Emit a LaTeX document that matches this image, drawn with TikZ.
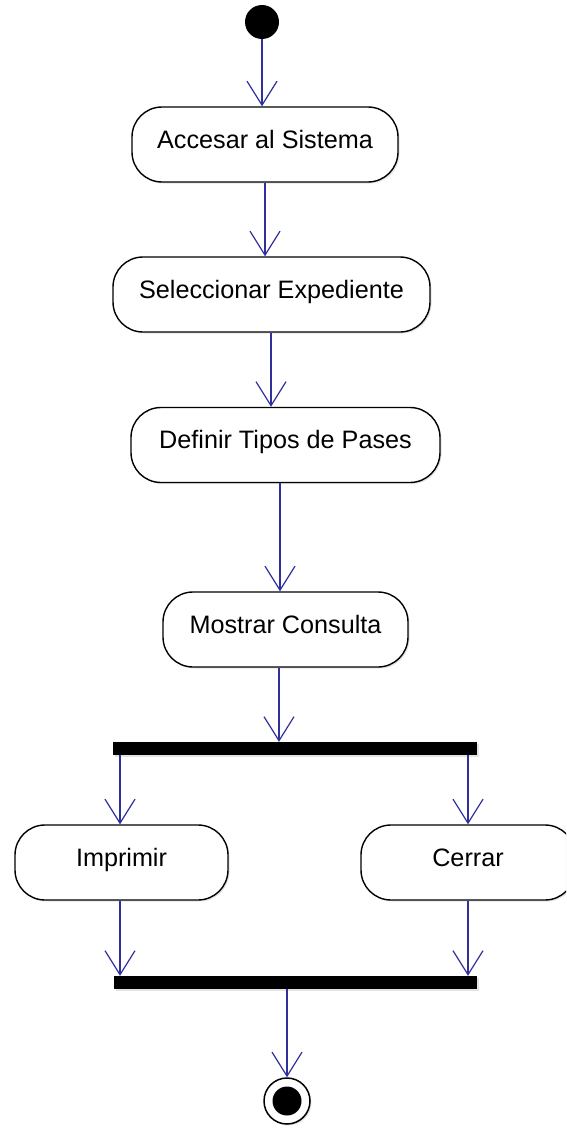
\documentclass[tikz,border=0pt]{standalone}
\usepackage{fontspec}
\setmainfont{Liberation Sans}
\usetikzlibrary{arrows.meta,shadows}
\definecolor{flowblue}{RGB}{48,48,156}
\tikzset{
  activity/.style={draw=black, line width=1.4pt, fill=white, rounded corners=30pt,
    minimum height=75pt, inner sep=0pt, text height=18pt, text depth=11pt,
    font=\fontsize{25.2}{28}\selectfont,
    drop shadow={opacity=0.22, shadow xshift=1.5pt, shadow yshift=-1.5pt}},
  bar/.style={fill=black, draw=none, minimum height=13pt, inner sep=0pt,
    drop shadow={opacity=0.22, shadow xshift=1.5pt, shadow yshift=-1.5pt}},
  flow/.style={draw=flowblue, line width=1.2pt,
    -{Straight Barb[length=24pt, width=30pt, line width=1.2pt]}},
}
\begin{document}
\begin{tikzpicture}[x=1pt, y=-1pt]
  \useasboundingbox (0,0) rectangle (566,1129);
  \clip (0,0) rectangle (566,1129);

  % initial state
  \node[circle, fill=black, minimum size=34pt, inner sep=0pt] (start) at (262,22) {};

  % activities
  \node[activity, minimum width=266pt] (acc) at (265,144.5) {Accesar al Sistema};
  \node[activity, minimum width=317pt] (sel) at (271.5,294.5) {Seleccionar Expediente};
  \node[activity, minimum width=309pt] (def) at (285.5,445) {Definir Tipos de Pases};
  \node[activity, minimum width=245pt] (mos) at (285.5,629.5) {Mostrar Consulta};

  % fork
  \node[bar, minimum width=364pt] (fork) at (295,748.5) {};

  \node[activity, minimum width=213pt] (imp) at (121.5,862.5) {Imprimir};
  \node[activity, minimum width=214pt] (cer) at (468,862.5) {Cerrar};

  % join
  \node[bar, minimum width=363pt] (join) at (295.5,982.5) {};

  % final state
  \node[circle, draw=black, line width=1.5pt, fill=white, minimum size=46pt, inner sep=0pt,
    drop shadow={opacity=0.22, shadow xshift=1.5pt, shadow yshift=-1.5pt}] (final) at (287,1101) {};
  \node[circle, fill=black, minimum size=29pt, inner sep=0pt] (finalin) at (final.center) {};

  % transitions
  \draw[flow] (start.south) -- (start.south |- acc.north);
  \draw[flow] (acc.south) -- (acc.south |- sel.north);
  \draw[flow] ([xshift=-0.5pt]sel.south) -- ([xshift=-0.5pt]sel.south |- def.north);
  \draw[flow] ([xshift=-5.5pt]def.south) -- ([xshift=-5.5pt]def.south |- mos.north);
  \draw[flow] ([xshift=-6.5pt]mos.south) -- ([xshift=-6.5pt]mos.south |- fork.north);
  \draw[flow] ([xshift=-1.5pt]imp.north |- fork.south) -- ([xshift=-1.5pt]imp.north);
  \draw[flow] (cer.north |- fork.south) -- (cer.north);
  \draw[flow] ([xshift=-1.5pt]imp.south) -- ([xshift=-1.5pt]imp.south |- join.north);
  \draw[flow] (cer.south) -- (cer.south |- join.north);
  \draw[flow] (final.north |- join.south) -- (final.north);
\end{tikzpicture}
\end{document}
